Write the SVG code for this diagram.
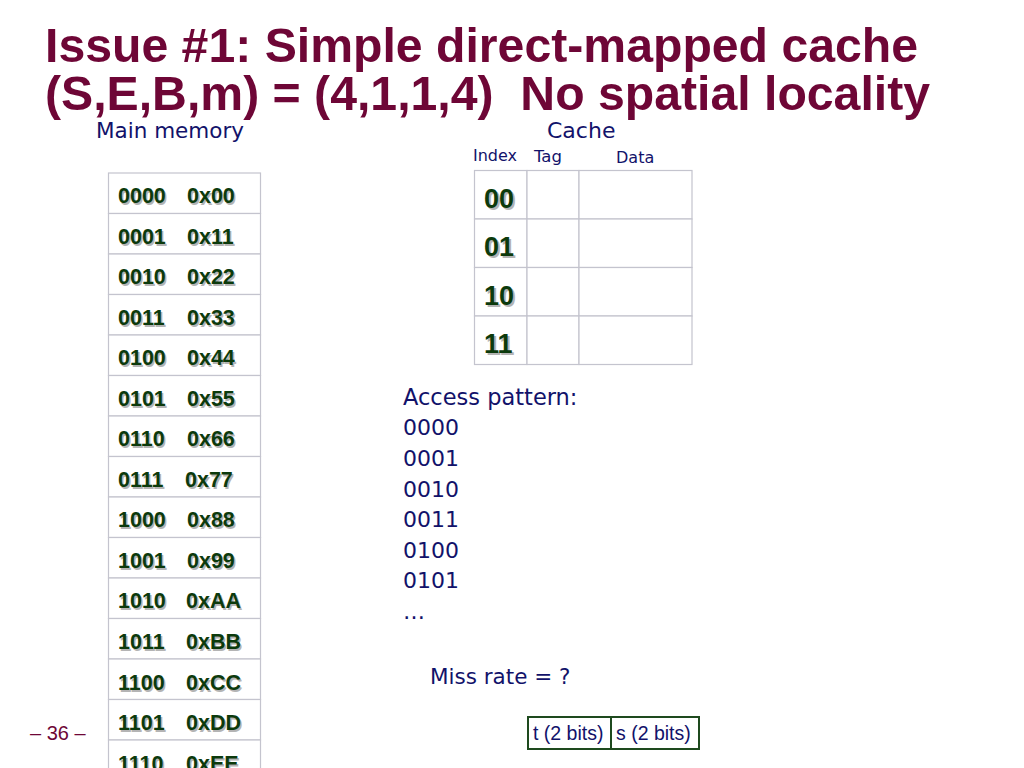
<svg xmlns="http://www.w3.org/2000/svg" width="1024" height="768" viewBox="0 0 1024 768">
<defs>
<style>
.title{font-family:"Liberation Sans",Arial,sans-serif;font-weight:bold;font-size:48.2px;fill:#6E0636}
.lbl{font-family:"DejaVu Sans",Verdana,sans-serif;fill:#12126A}
.cell{fill:#fff;stroke:#C4C4CE;stroke-width:1.2}
.mem{font-family:"Liberation Sans",Arial,sans-serif;font-weight:bold;font-size:21.5px;fill:#0C3A0C}
.sh{font-family:"Liberation Sans",Arial,sans-serif;font-weight:bold;font-size:21.5px;fill:#B4B4B4}
.idx{font-family:"Liberation Sans",Arial,sans-serif;font-weight:bold;font-size:27px;fill:#0C3A0C}
.idxs{font-family:"Liberation Sans",Arial,sans-serif;font-weight:bold;font-size:27px;fill:#B4B4B4}
.box{fill:#fff;stroke:#1E4A1E;stroke-width:2}
.bt{font-family:"Liberation Sans",Arial,sans-serif;font-size:19.5px;fill:#12126A}
</style>
</defs>
<rect width="1024" height="768" fill="#fff"/>
<g id="title">
<text class="title" x="45" y="62">Issue #1: Simple direct-mapped cache</text>
<text class="title" x="45" y="110" xml:space="preserve">(S,E,B,m) = (4,1,1,4)  No spatial locality</text>
</g>
<g id="main-memory">
<text class="lbl" x="96" y="138" font-size="21.5">Main memory</text>
<rect class="cell" x="108.5" y="173" width="152" height="40.5"/>
<rect class="cell" x="108.5" y="213.5" width="152" height="40.5"/>
<rect class="cell" x="108.5" y="254" width="152" height="40.5"/>
<rect class="cell" x="108.5" y="294.5" width="152" height="40.5"/>
<rect class="cell" x="108.5" y="335" width="152" height="40.5"/>
<rect class="cell" x="108.5" y="375.5" width="152" height="40.5"/>
<rect class="cell" x="108.5" y="416" width="152" height="40.5"/>
<rect class="cell" x="108.5" y="456.5" width="152" height="40.5"/>
<rect class="cell" x="108.5" y="497" width="152" height="40.5"/>
<rect class="cell" x="108.5" y="537.5" width="152" height="40.5"/>
<rect class="cell" x="108.5" y="578" width="152" height="40.5"/>
<rect class="cell" x="108.5" y="618.5" width="152" height="40.5"/>
<rect class="cell" x="108.5" y="659" width="152" height="40.5"/>
<rect class="cell" x="108.5" y="699.5" width="152" height="40.5"/>
<rect class="cell" x="108.5" y="740" width="152" height="40.5"/>
<g transform="translate(1.5,1.5)">
<text class="sh" x="118" y="203">0000</text><text class="sh" x="187" y="203">0x00</text>
<text class="sh" x="118" y="244">0001</text><text class="sh" x="187" y="244">0x11</text>
<text class="sh" x="118" y="284">0010</text><text class="sh" x="187" y="284">0x22</text>
<text class="sh" x="118" y="325">0011</text><text class="sh" x="187" y="325">0x33</text>
<text class="sh" x="118" y="365">0100</text><text class="sh" x="187" y="365">0x44</text>
<text class="sh" x="118" y="406">0101</text><text class="sh" x="187" y="406">0x55</text>
<text class="sh" x="118" y="446">0110</text><text class="sh" x="187" y="446">0x66</text>
<text class="sh" x="118" y="487">0111</text><text class="sh" x="185" y="487">0x77</text>
<text class="sh" x="118" y="527">1000</text><text class="sh" x="187" y="527">0x88</text>
<text class="sh" x="118" y="568">1001</text><text class="sh" x="187" y="568">0x99</text>
<text class="sh" x="118" y="608">1010</text><text class="sh" x="186" y="608">0xAA</text>
<text class="sh" x="118" y="649">1011</text><text class="sh" x="186" y="649">0xBB</text>
<text class="sh" x="118" y="690">1100</text><text class="sh" x="186" y="690">0xCC</text>
<text class="sh" x="118" y="730">1101</text><text class="sh" x="186" y="730">0xDD</text>
<text class="sh" x="118" y="771">1110</text><text class="sh" x="186" y="771">0xEE</text>
</g>
<text class="mem" x="118" y="203">0000</text><text class="mem" x="187" y="203">0x00</text>
<text class="mem" x="118" y="244">0001</text><text class="mem" x="187" y="244">0x11</text>
<text class="mem" x="118" y="284">0010</text><text class="mem" x="187" y="284">0x22</text>
<text class="mem" x="118" y="325">0011</text><text class="mem" x="187" y="325">0x33</text>
<text class="mem" x="118" y="365">0100</text><text class="mem" x="187" y="365">0x44</text>
<text class="mem" x="118" y="406">0101</text><text class="mem" x="187" y="406">0x55</text>
<text class="mem" x="118" y="446">0110</text><text class="mem" x="187" y="446">0x66</text>
<text class="mem" x="118" y="487">0111</text><text class="mem" x="185" y="487">0x77</text>
<text class="mem" x="118" y="527">1000</text><text class="mem" x="187" y="527">0x88</text>
<text class="mem" x="118" y="568">1001</text><text class="mem" x="187" y="568">0x99</text>
<text class="mem" x="118" y="608">1010</text><text class="mem" x="186" y="608">0xAA</text>
<text class="mem" x="118" y="649">1011</text><text class="mem" x="186" y="649">0xBB</text>
<text class="mem" x="118" y="690">1100</text><text class="mem" x="186" y="690">0xCC</text>
<text class="mem" x="118" y="730">1101</text><text class="mem" x="186" y="730">0xDD</text>
<text class="mem" x="118" y="771">1110</text><text class="mem" x="186" y="771">0xEE</text>
</g>
<g id="cache">
<text class="lbl" x="547" y="138" font-size="22">Cache</text>
<text class="lbl" x="473" y="161" font-size="16">Index</text>
<text class="lbl" x="534" y="162" font-size="16.5">Tag</text>
<text class="lbl" x="616" y="163" font-size="16">Data</text>
<rect class="cell" x="474.5" y="170.5" width="52.5" height="48.5"/>
<rect class="cell" x="527" y="170.5" width="52" height="48.5"/>
<rect class="cell" x="579" y="170.5" width="113" height="48.5"/>
<rect class="cell" x="474.5" y="219" width="52.5" height="48.5"/>
<rect class="cell" x="527" y="219" width="52" height="48.5"/>
<rect class="cell" x="579" y="219" width="113" height="48.5"/>
<rect class="cell" x="474.5" y="267.5" width="52.5" height="48.5"/>
<rect class="cell" x="527" y="267.5" width="52" height="48.5"/>
<rect class="cell" x="579" y="267.5" width="113" height="48.5"/>
<rect class="cell" x="474.5" y="316" width="52.5" height="48.5"/>
<rect class="cell" x="527" y="316" width="52" height="48.5"/>
<rect class="cell" x="579" y="316" width="113" height="48.5"/>
<g transform="translate(2,2)">
<text class="idxs" x="484" y="208">00</text>
<text class="idxs" x="484" y="256">01</text>
<text class="idxs" x="484" y="305">10</text>
<text class="idxs" x="484" y="353">11</text>
</g>
<text class="idx" x="484" y="208">00</text>
<text class="idx" x="484" y="256">01</text>
<text class="idx" x="484" y="305">10</text>
<text class="idx" x="484" y="353">11</text>
</g>
<g id="access-pattern">
<text class="lbl" x="403" y="405" font-size="22.5">Access pattern:</text>
<text class="lbl" x="403" y="435" font-size="22">0000</text>
<text class="lbl" x="403" y="466" font-size="22">0001</text>
<text class="lbl" x="403" y="497" font-size="22">0010</text>
<text class="lbl" x="403" y="527" font-size="22">0011</text>
<text class="lbl" x="403" y="558" font-size="22">0100</text>
<text class="lbl" x="403" y="588" font-size="22">0101</text>
<text class="lbl" x="403" y="619" font-size="22">…</text>
<text class="lbl" x="430" y="684" font-size="21.5">Miss rate = ?</text>
</g>
<g id="address-bits">
<rect class="box" x="528" y="717" width="83" height="32"/>
<rect class="box" x="611" y="717" width="88" height="32"/>
<text class="bt" x="533" y="740">t (2 bits)</text>
<text class="bt" x="616" y="740">s (2 bits)</text>
</g>
<text id="page" x="30" y="740" font-family="Liberation Sans,Arial,sans-serif" font-size="20" fill="#6E0636">– 36 –</text>
</svg>
